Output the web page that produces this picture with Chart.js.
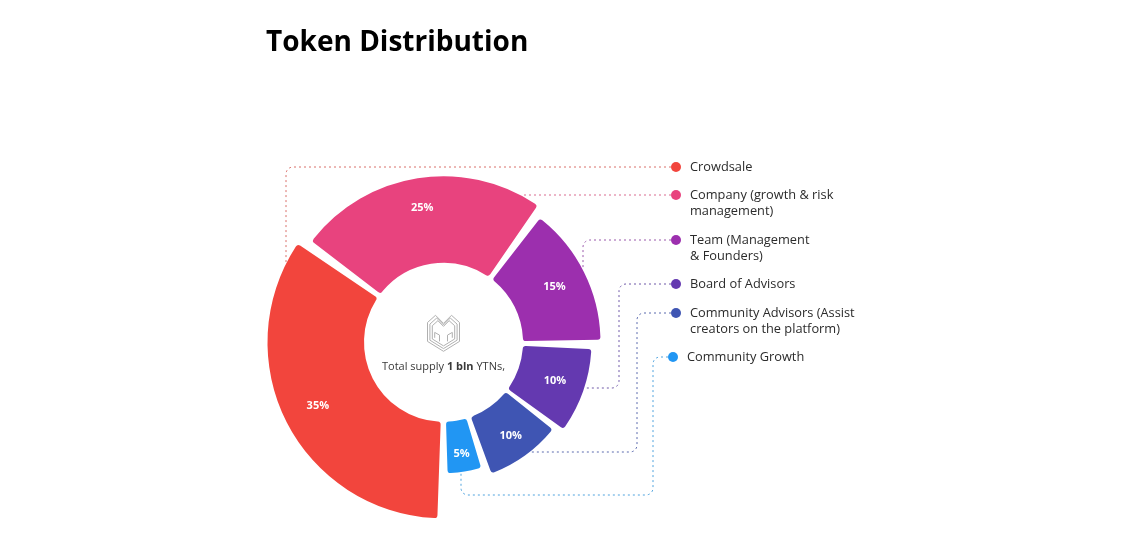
<!DOCTYPE html>
<html>
<head>
<meta charset="utf-8">
<title>Token Distribution</title>
<script src="https://cdn.jsdelivr.net/npm/chart.js@4"></script>
<style>
  html, body { margin: 0; padding: 0; background: #fff; }
  canvas { display: block; }
</style>
</head>
<body>
<canvas id="tokens" width="1126" height="538"></canvas>
<script>
const categories = [
    ["Crowdsale"],
    ["Company (growth & risk", "management)"],
    ["Team (Management", "& Founders)"],
    ["Board of Advisors"],
    ["Community Advisors (Assist", "creators on the platform)"],
    ["Community Growth"]
];
const shares = [35, 25, 15, 10, 10, 5];
const colors = ['#f2453d', '#e8437e', '#9c2fae', '#6439b0', '#3f55b3', '#2196f3'];
const lineColors = ['#d9706a', '#d96a90', '#9a58ab', '#6f58a8', '#5b6aae', '#4fa3de'];

const font = '"Open Sans", "Noto Sans", sans-serif';

// rings have a different outer radius per slice, doughnut only knows one
// trim widens the gaps round the small slices, in degrees (start, end)
const steppedArcs = {
    id: 'steppedArcs',
    afterDatasetsUpdate(chart, args, opts) {
        chart.getDatasetMeta(0).data.forEach((arc, i) => {
            const start = arc.startAngle + opts.trim[i][0] * Math.PI / 180;
            const end = arc.endAngle + opts.trim[i][1] * Math.PI / 180;
            arc.startAngle = start;
            arc.endAngle = end;
            arc.circumference = end - start;
            arc.innerRadius = opts.inner;
            arc.outerRadius = opts.outer[i];
        });
    }
};

// leader lines, legend, centre text and percent labels
const annotations = {
    id: 'annotations',
    beforeDatasetsDraw(chart, args, opts) {
        const ctx = chart.ctx;
        ctx.save();
        ctx.lineWidth = 1;
        ctx.setLineDash([2, 3]);
        opts.routes.forEach((route, i) => {
            ctx.strokeStyle = lineColors[i];
            ctx.beginPath();
            ctx.moveTo(route[0][0], route[0][1]);
            for (let p = 1; p < route.length - 1; p++) {
                ctx.arcTo(route[p][0], route[p][1], route[p + 1][0], route[p + 1][1], 7);
            }
            const last = route[route.length - 1];
            ctx.lineTo(last[0], last[1]);
            ctx.stroke();
        });
        ctx.restore();
    },
    afterDatasetsDraw(chart, args, opts) {
        const ctx = chart.ctx;
        const arcs = chart.getDatasetMeta(0).data;
        const cx = arcs[0].x, cy = arcs[0].y;
        ctx.save();
        ctx.textBaseline = 'middle';

        // percent labels
        ctx.fillStyle = '#fff';
        ctx.textAlign = 'center';
        ctx.font = '700 11px ' + font;
        arcs.forEach((arc, i) => {
            const mid = (arc.startAngle + arc.endAngle) / 2;
            ctx.fillText(shares[i] + '%', cx + Math.cos(mid) * opts.labelAt[i], cy + Math.sin(mid) * opts.labelAt[i]);
        });

        // legend
        ctx.textAlign = 'left';
        ctx.font = '12.8px ' + font;
        categories.forEach((lines, i) => {
            const item = opts.legend[i];
            ctx.fillStyle = colors[i];
            ctx.beginPath();
            ctx.arc(item[0], item[1], 5, 0, Math.PI * 2);
            ctx.fill();
            ctx.fillStyle = '#2b2b2b';
            lines.forEach((line, l) => ctx.fillText(line, item[0] + 14, item[1] + 0.5 + l * 16));
        });

        // centre text
        const parts = [['Total supply ', '400'], ['1 bln', '700'], [' YTNs,', '400']];
        let total = 0;
        parts.forEach(p => { ctx.font = p[1] + ' 11px ' + font; total += ctx.measureText(p[0]).width; });
        let x = cx - total / 2;
        ctx.fillStyle = '#3a3a3a';
        parts.forEach(p => {
            ctx.font = p[1] + ' 11px ' + font;
            ctx.fillText(p[0], x, cy + 25);
            x += ctx.measureText(p[0]).width;
        });

        // logo
        const logoX = pt => cx + pt[0] * 16;
        const logoY = pt => cy - 9 + pt[1] * 18;
        const outline = [[0, -0.55], [-0.5, -1], [-1, -0.6], [-1, 0.45], [0, 1], [1, 0.45], [1, -0.6], [0.5, -1]];
        ctx.strokeStyle = '#b0b0b0';
        ctx.lineWidth = 1;
        [1, 0.85, 0.7].forEach(k => {
            ctx.beginPath();
            outline.forEach((pt, n) => {
                const scaled = [pt[0] * k, pt[1] * k];
                if (n === 0) ctx.moveTo(logoX(scaled), logoY(scaled)); else ctx.lineTo(logoX(scaled), logoY(scaled));
            });
            ctx.closePath();
            ctx.stroke();
        });
        [-1, 1].forEach(side => {
            ctx.beginPath();
            ctx.moveTo(logoX([side * 0.55, 0.25]), logoY([side * 0.55, 0.25]));
            ctx.lineTo(logoX([side * 0.55, -0.05]), logoY([side * 0.55, -0.05]));
            ctx.lineTo(logoX([side * 0.25, 0.1]), logoY([side * 0.25, 0.1]));
            ctx.lineTo(logoX([side * 0.25, 0.45]), logoY([side * 0.25, 0.45]));
            ctx.stroke();
        });
        ctx.restore();
    }
};

new Chart(document.getElementById('tokens'), {
    type: 'doughnut',
    data: {
        labels: categories,
        datasets: [{
            data: shares,
            backgroundColor: colors,
            borderWidth: 0,
            borderRadius: 3,
            spacing: 8
        }]
    },
    options: {
        responsive: false,
        animation: false,
        events: [],
        rotation: 180,
        layout: { padding: { left: 266, right: 505, top: 26, bottom: 19 } },
        plugins: {
            legend: { display: false },
            tooltip: { enabled: false },
            title: {
                display: true,
                text: 'Token Distribution',
                align: 'start',
                color: '#000',
                font: { family: font, size: 28, weight: '700' },
                padding: { top: 0, bottom: 106 }
            },
            steppedArcs: {
                inner: 75.5,
                outer: [172, 162, 153, 144, 135.5, 127],
                trim: [[0, 0], [0, 0], [1, 0], [2, 0.5], [2, -1.5], [1, -1.5]]
            },
            annotations: {
                labelAt: [141, 136, 124, 118, 115, 113],
                legend: [[676, 167], [676, 195], [676, 240], [676, 284], [676, 313], [673, 357]],
                routes: [
                    [[676, 167], [286, 167], [286, 264]],
                    [[676, 195], [522, 195]],
                    [[676, 240], [583, 240], [583, 268]],
                    [[676, 284], [619, 284], [619, 388], [585, 388]],
                    [[676, 313], [637, 313], [637, 452], [530, 452]],
                    [[673, 357], [653, 357], [653, 495], [461, 495], [461, 473]]
                ]
            }
        }
    },
    plugins: [steppedArcs, annotations]
});
</script>
</body>
</html>
